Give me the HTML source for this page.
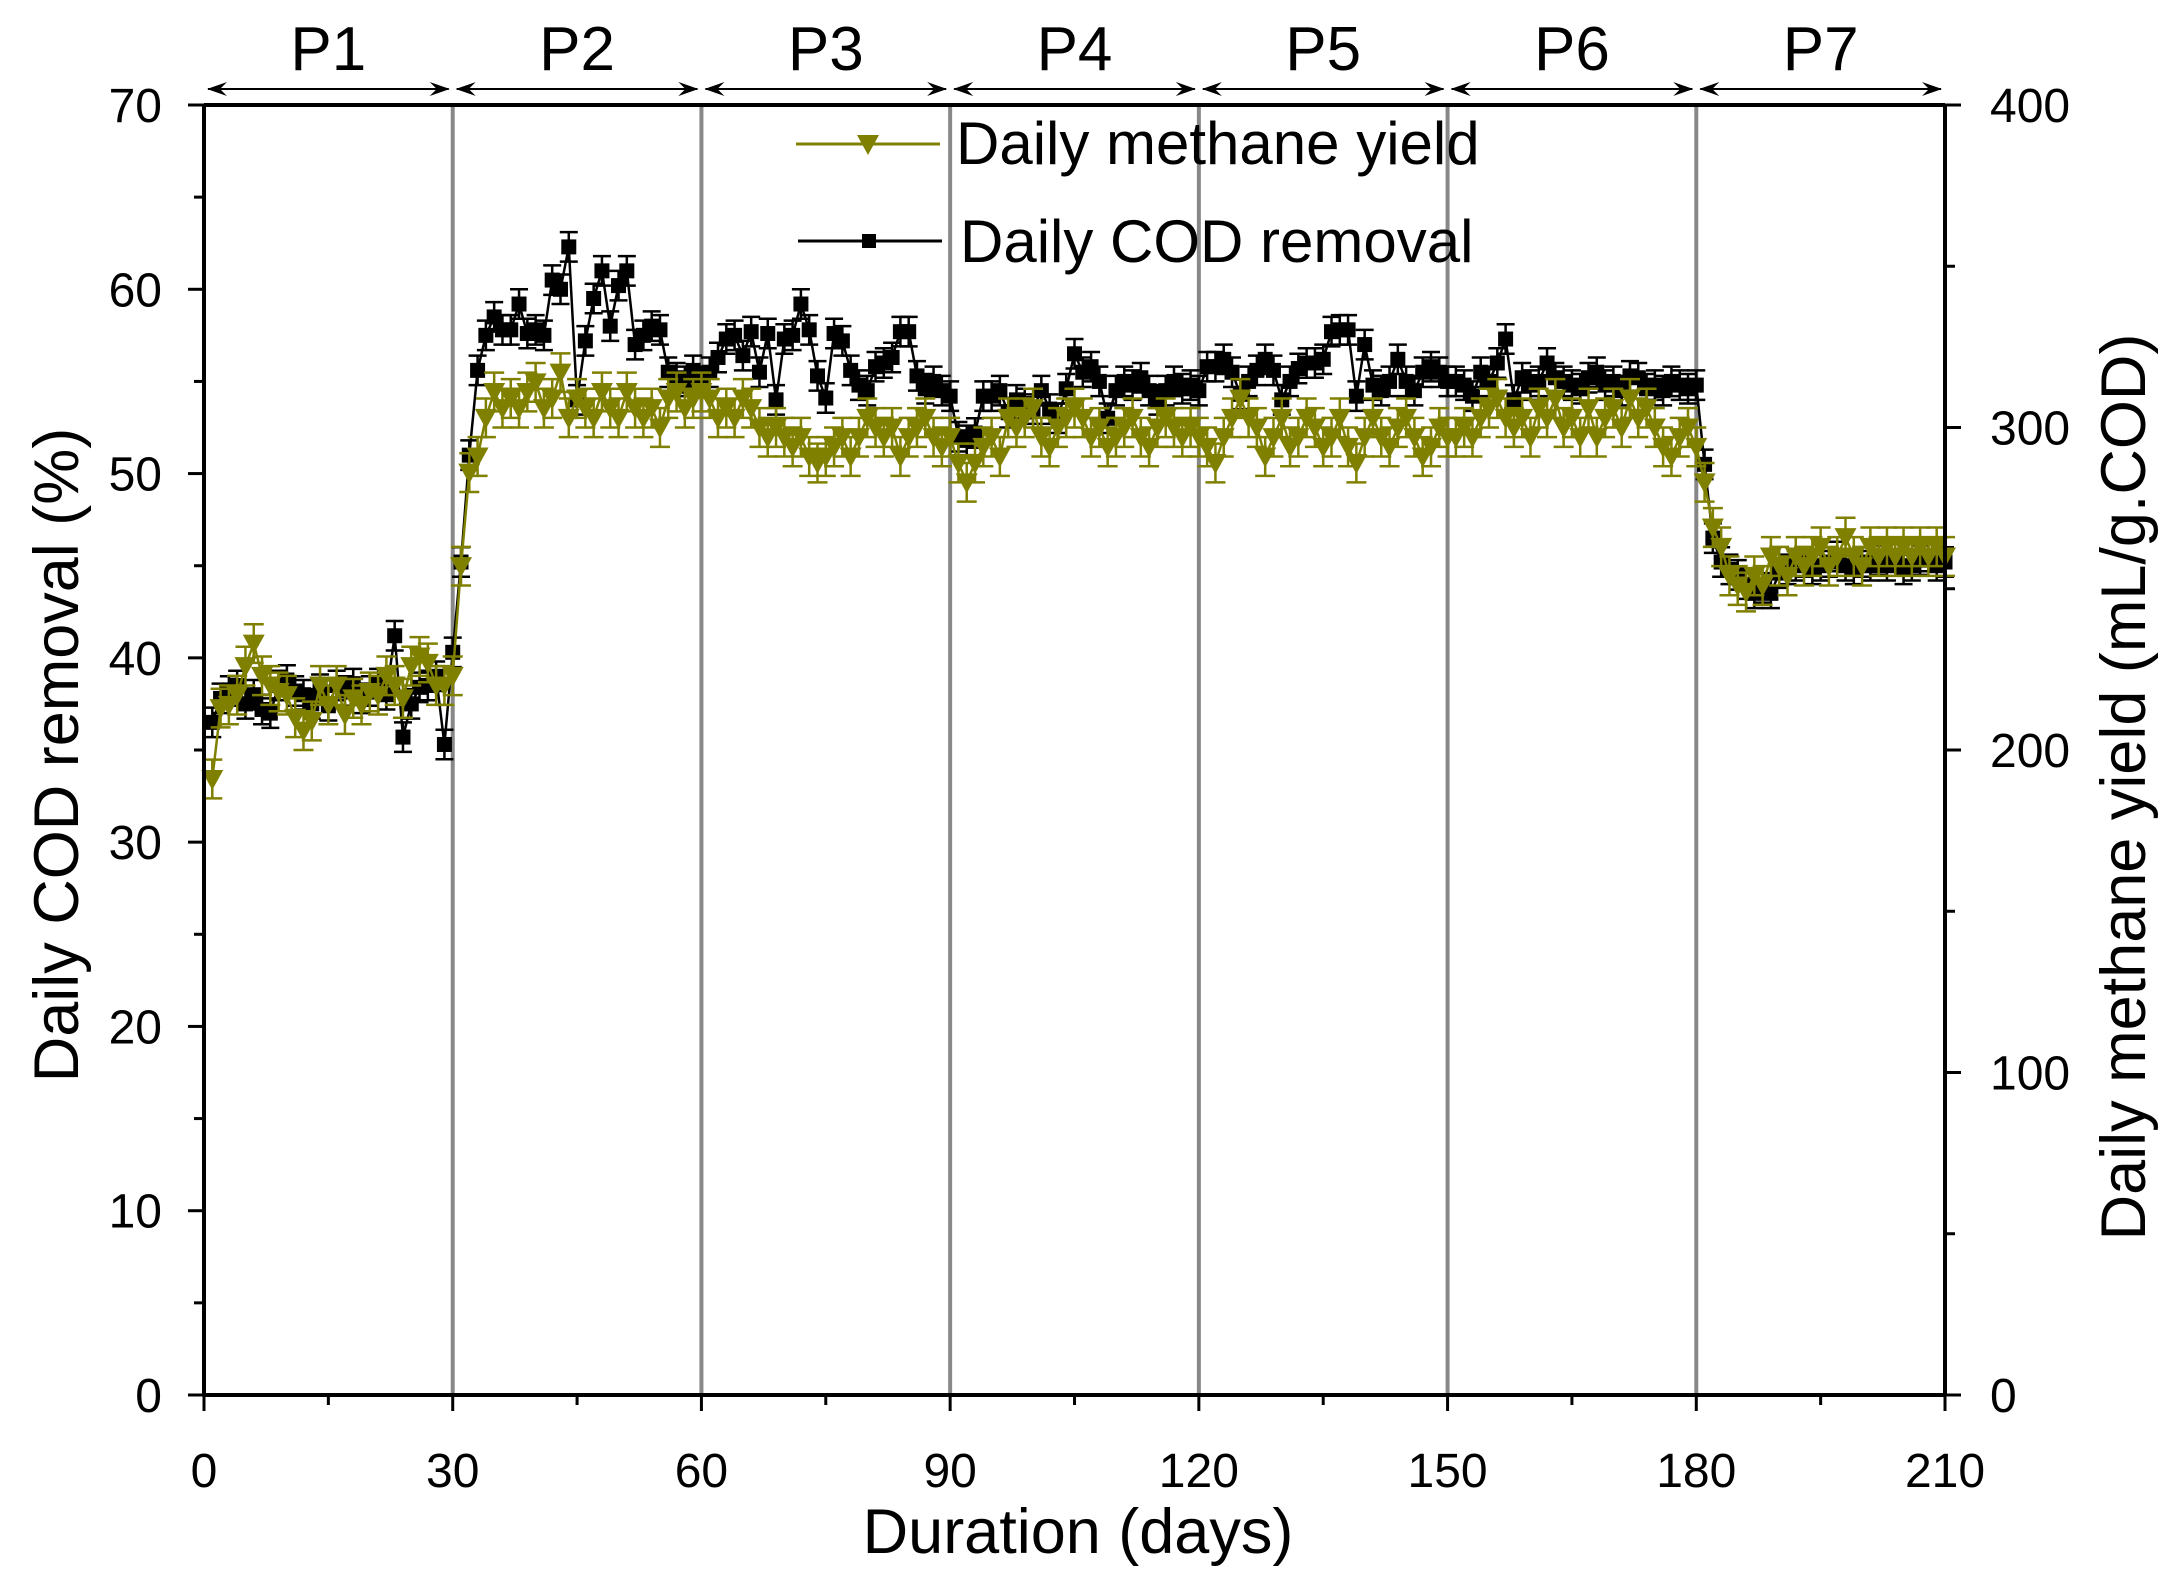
<!DOCTYPE html>
<html><head><meta charset="utf-8"><style>
html,body{margin:0;padding:0;background:#fff}
svg text{font-family:"Liberation Sans",Arial,sans-serif}
</style></head><body>
<svg id="chart" width="2170" height="1577" viewBox="0 0 2170 1577" xmlns="http://www.w3.org/2000/svg"></svg>
<script>
const codValues=[36.5,37.8,38.2,38.5,37.5,38,37.2,37,38.5,38.8,38.2,38.0,37.5,38.3,37.4,38.5,38.2,38.6,37.8,38.2,38.6,38.0,41.2,35.7,37.5,38.4,38.5,39.0,35.3,40.3,
45.2,51.0,55.6,57.5,58.5,57.8,57.8,59.2,57.6,57.8,57.5,60.5,60.0,62.3,54.0,57.2,59.5,61.0,58.0,60.2,61.0,57.0,57.5,58.0,57.8,55.5,55.2,55.0,55.6,55.0,
55.5,56.3,57.3,57.5,56.4,57.7,55.5,57.6,54.0,57.3,57.5,59.2,57.8,55.3,54.1,57.6,57.2,55.6,54.8,54.5,55.8,56.0,56.3,57.7,57.7,55.3,54.6,55.0,54.5,54.2,
52.0,51.8,52.2,54.2,54.2,54.5,53.3,54.0,53.8,53.5,54.5,53.5,53.0,54.6,56.5,55.5,55.8,55.0,53.0,54.5,55.0,54.8,55.2,54.5,54.0,54.5,55.0,54.6,54.8,54.5,
55.8,55.8,56.2,55.5,54.3,55.0,55.6,56.2,55.6,54.0,55.0,55.7,56.0,56.0,56.2,57.7,57.8,57.8,54.2,57.0,54.8,54.5,55.0,56.2,55.0,54.5,55.5,55.8,55.5,55.0,
55.0,54.8,54.2,55.5,55.0,56.0,57.3,54.0,55.2,54.8,55.0,56.0,55.2,55.0,54.8,54.6,55.2,55.5,54.8,55.0,54.5,55.3,55.2,54.6,54.8,54.5,55.0,54.8,54.6,54.8,
50.5,46.5,45.2,44.8,44.5,44.0,43.5,43.8,43.5,44.6,44.8,45.0,45.2,44.8,45.0,45.2,45.5,45.0,44.8,45.2,45.0,45.3,45.0,45.5,44.8,45.0,45.3,45.5,45.0,45.2];
const methaneValues=[191,213,214,217,226,233,223,220,218,217,210,206,209,220,214,220,211,216,214,218,217,223,220,216,226,229,227,220,220,223,
257,286,291,303,311,306,309,306,311,314,306,309,317,303,309,306,303,311,306,303,311,306,303,306,300,309,311,306,309,311,
309,303,306,303,309,306,300,297,300,297,294,297,291,289,291,294,297,291,297,303,300,297,300,291,297,300,303,297,294,297,
289,283,289,294,297,291,303,300,303,306,297,294,300,303,306,303,297,300,294,297,300,303,297,294,300,303,300,297,300,297,
294,289,297,303,309,303,300,291,297,303,294,297,303,300,294,297,303,294,289,297,303,297,294,300,303,297,291,294,300,297,
297,300,297,303,306,309,303,300,303,297,306,303,309,300,303,297,306,297,303,306,300,309,303,306,300,294,291,297,300,294,
283,269,263,254,251,249,254,251,260,257,254,260,257,260,263,257,260,266,260,257,263,260,263,260,263,260,263,260,263,260];
const codError=0.8;
const methaneError=6;
const xTicks=[0,30,60,90,120,150,180,210];
const leftTicks=[0,10,20,30,40,50,60,70];
const rightTicks=[0,100,200,300,400];
const periodLabels=["P1","P2","P3","P4","P5","P6","P7"];
const periodBounds=[0,30,60,90,120,150,180,210];

const L=204,R=1945,T=105,B=1395;
const xs=d=>L+(d/210)*(R-L);
const yl=v=>B-(v/70)*(B-T);
const yr=v=>B-(v/400)*(B-T);
const svg=document.getElementById('chart');
const NS='http://www.w3.org/2000/svg';
function mk(tag,attrs,parent){const e=document.createElementNS(NS,tag);for(const k in attrs)e.setAttribute(k,attrs[k]);(parent||svg).appendChild(e);return e;}

const defs=mk('defs',{});
const m=mk('marker',{id:'ah',markerWidth:'20',markerHeight:'14',refX:'19',refY:'7',orient:'auto-start-reverse',markerUnits:'userSpaceOnUse'},defs);
mk('path',{d:'M0,0 L20,7 L0,14 L7,7 Z',fill:'#000'},m);

for(let i=1;i<periodBounds.length-1;i++){
  const l=mk('line',{x1:xs(periodBounds[i]),x2:xs(periodBounds[i]),y1:T-2,y2:B,stroke:'#888',"stroke-width":4});
  
  
}
for(let i=0;i<periodLabels.length;i++){
  const a=xs(periodBounds[i])+4,b=xs(periodBounds[i+1])-4;
  const ar=mk('line',{x1:a,x2:b,y1:89,y2:89,stroke:'#000',"stroke-width":2,"marker-start":'url(#ah)',"marker-end":'url(#ah)'});
  
  
  const t=mk('text',{x:(a+b)/2,y:70,"text-anchor":'middle',"font-size":62});
  t.textContent=periodLabels[i];
  
  
}

const codG=mk('g',{});


let p='';codValues.forEach((v,i)=>{p+=(i?'L':'M')+xs(i+1)+','+yl(v);});
mk('path',{d:p,fill:'none',stroke:'#000',"stroke-width":2.5},codG);
codValues.forEach((v,i)=>{
  const x=xs(i+1),y1=yl(v-codError),y2=yl(v+codError);
  mk('path',{d:`M${x},${y1}L${x},${y2}M${x-9},${y1}L${x+9},${y1}M${x-9},${y2}L${x+9},${y2}`,stroke:'#000',"stroke-width":2.5,fill:'none'},codG);
  const r=mk('rect',{x:x-7.5,y:yl(v)-7.5,width:15,height:15,fill:'#000'},codG);
  
  
});
const mG=mk('g',{});


p='';methaneValues.forEach((v,i)=>{p+=(i?'L':'M')+xs(i+1)+','+yr(v);});
mk('path',{d:p,fill:'none',stroke:'#808000',"stroke-width":2.5},mG);
methaneValues.forEach((v,i)=>{
  const x=xs(i+1),y1=yr(v-methaneError),y2=yr(v+methaneError);
  mk('path',{d:`M${x},${y1}L${x},${y2}M${x-10},${y1}L${x+10},${y1}M${x-10},${y2}L${x+10},${y2}`,stroke:'#808000',"stroke-width":2.5,fill:'none'},mG);
  const y=yr(v);
  const tr=mk('path',{d:`M${x-11},${y-9}L${x+11},${y-9}L${x},${y+11}Z`,fill:'#808000'},mG);
  
  
});

const ax=mk('g',{stroke:'#000',"stroke-width":4,fill:'none'});


mk('line',{x1:L,x2:R,y1:T,y2:T},ax);
mk('line',{x1:L,x2:R,y1:B,y2:B},ax);
mk('line',{x1:L,x2:L,y1:T,y2:B},ax);
mk('line',{x1:R,x2:R,y1:T,y2:B},ax);
const tx=mk('g',{fill:'#000'});
xTicks.forEach(d=>{
  mk('line',{x1:xs(d),x2:xs(d),y1:B,y2:B+16,"stroke-width":3},ax);
  const t=mk('text',{x:xs(d),y:1487,"text-anchor":'middle',"font-size":48},tx);
  t.textContent=d;
  
  
});
for(let d=15;d<210;d+=30) mk('line',{x1:xs(d),x2:xs(d),y1:B,y2:B+10,"stroke-width":3},ax);
leftTicks.forEach(v=>{
  mk('line',{x1:L-16,x2:L,y1:yl(v),y2:yl(v),"stroke-width":3},ax);
  const t=mk('text',{x:162,y:yl(v)+17,"text-anchor":'end',"font-size":48},tx);
  t.textContent=v;
  
  
});
for(let v=5;v<70;v+=10) mk('line',{x1:L-10,x2:L,y1:yl(v),y2:yl(v),"stroke-width":3},ax);
rightTicks.forEach(v=>{
  mk('line',{x1:R,x2:R+16,y1:yr(v),y2:yr(v),"stroke-width":3},ax);
  const t=mk('text',{x:1990,y:yr(v)+17,"text-anchor":'start',"font-size":48},tx);
  t.textContent=v;
  
  
});
for(let v=50;v<400;v+=100) mk('line',{x1:R,x2:R+10,y1:yr(v),y2:yr(v),"stroke-width":3},ax);

let t=mk('text',{x:1078,y:1553,"text-anchor":'middle',"font-size":63});
t.textContent='Duration (days)';


t=mk('text',{x:0,y:0,"text-anchor":'middle',"font-size":63,transform:'translate(78,755) rotate(-90)'});
t.textContent='Daily COD removal (%)';


t=mk('text',{x:0,y:0,"text-anchor":'middle',"font-size":63,transform:'translate(2145,787) rotate(-90)'});
t.textContent='Daily methane yield (mL/g.COD)';



const lg=mk('g',{});


const le1=mk('g',{},lg);


mk('line',{x1:796,x2:940,y1:144,y2:144,stroke:'#808000',"stroke-width":3},le1);
mk('path',{d:'M857,135L879,135L868,155Z',fill:'#808000'},le1);
t=mk('text',{x:956,y:164,"font-size":60},le1);t.textContent='Daily methane yield';
const le2=mk('g',{},lg);


mk('line',{x1:798,x2:942,y1:241,y2:241,stroke:'#000',"stroke-width":3},le2);
mk('rect',{x:862,y:234,width:14,height:14,fill:'#000'},le2);
t=mk('text',{x:960,y:262,"font-size":60},le2);t.textContent='Daily COD removal';
</script>
</body></html>
